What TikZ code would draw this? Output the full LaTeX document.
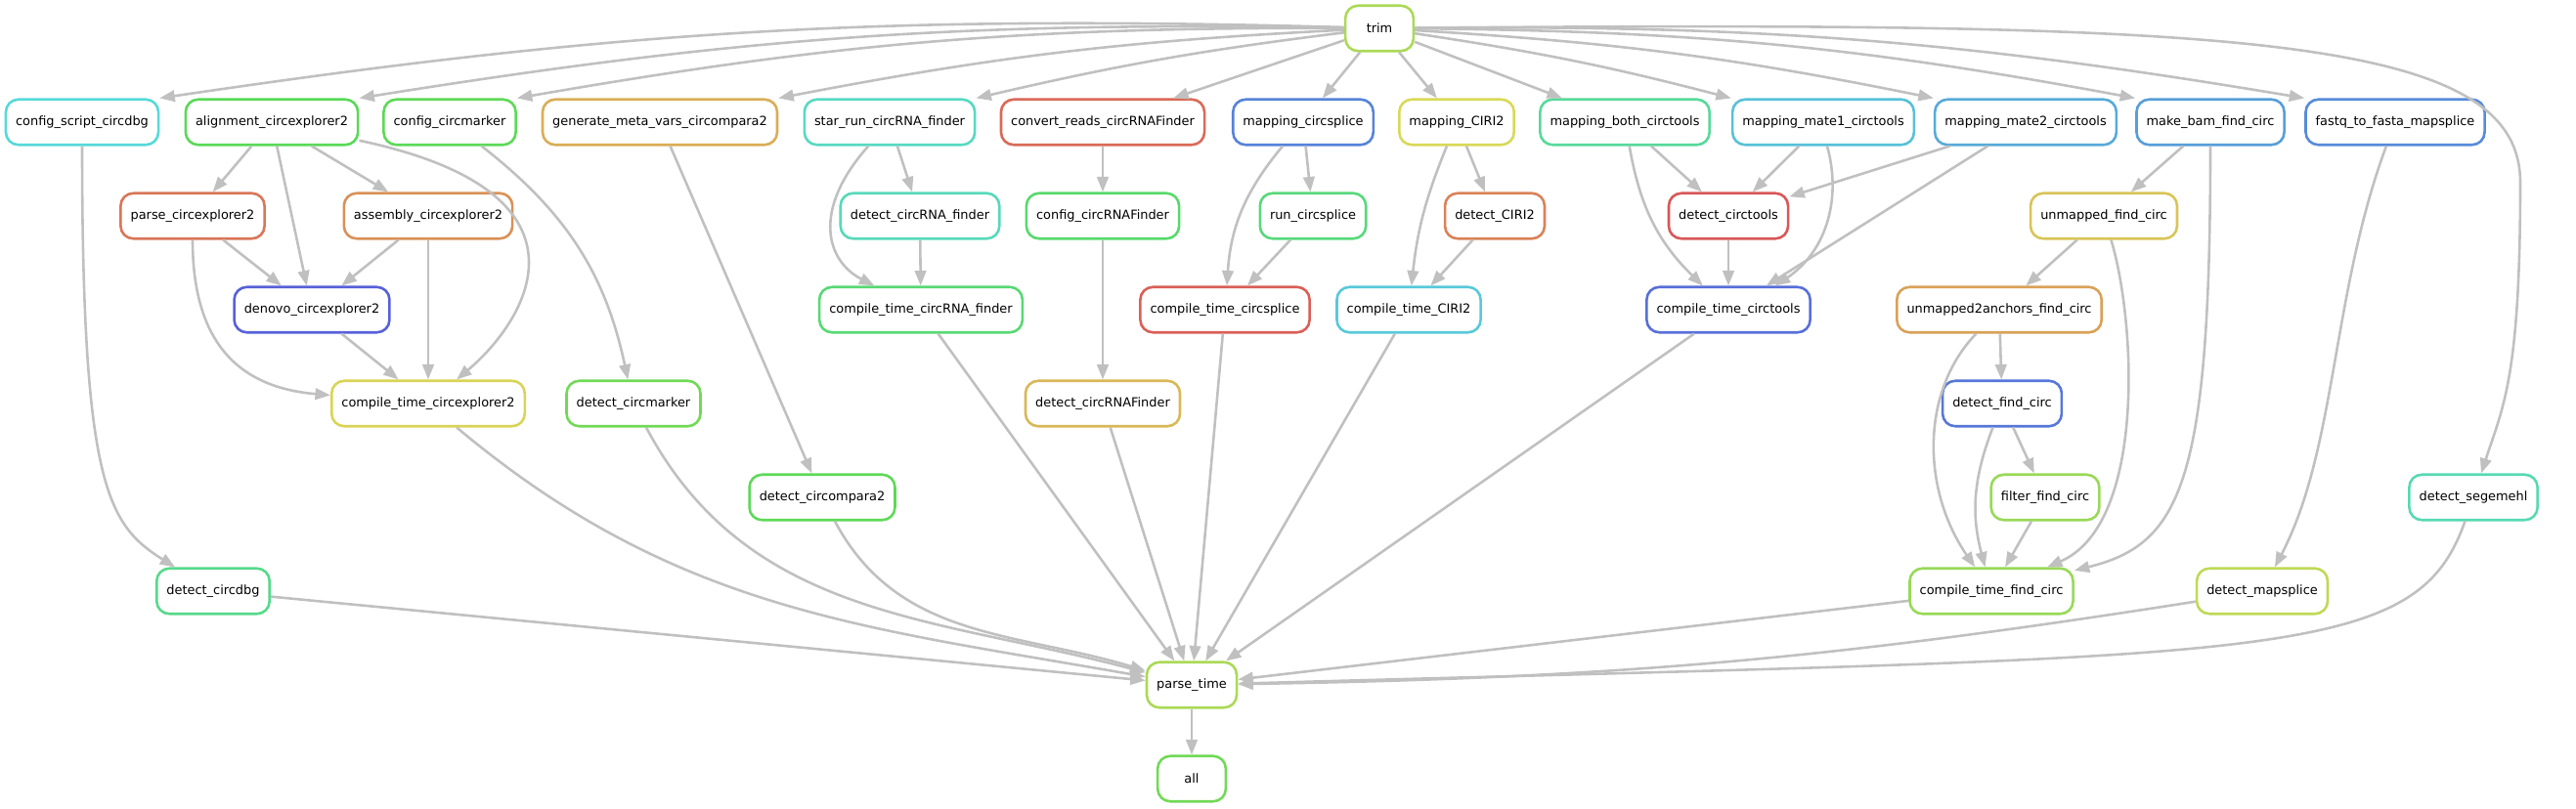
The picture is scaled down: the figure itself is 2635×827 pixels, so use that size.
\documentclass[tikz,border=0pt]{standalone}
\usepackage{fontspec}
\newfontfamily\dagfont{DejaVu Sans}
\usetikzlibrary{arrows.meta}
\definecolor{depgrey}{HTML}{C0C0C0}
\tikzset{
  every picture/.style={font=\dagfont\fontsize{10}{12}\selectfont},
  rulenode/.style={rectangle,rounded corners=10pt,line width=2pt,
    /utils/exec={\definecolor{rulehsb}{hsb}{#1,0.6,0.85}\colorlet{rulehue}[rgb]{rulehsb}},
    draw=rulehue,fill=white,text=black,minimum height=36pt,minimum width=54pt,
    inner xsep=7.9pt,inner ysep=0pt},
  dep/.style={draw=depgrey,line width=2pt,-{Triangle[length=12pt,width=9pt]}},
}
\begin{document}
\begin{tikzpicture}[x=0.775pt,y=0.775pt]
  \path[use as bounding box] (0,0) rectangle (2635,827);
  % rules, one row per level of the DAG
  \node[rulenode=0.225] (trim) at (1411,798) {trim};
  \node[rulenode=0.5]   (cfgdbg)  at (84,702)   {config\_script\_circdbg};
  \node[rulenode=0.33]  (alnce)   at (278,702)  {alignment\_circexplorer2};
  \node[rulenode=0.325] (cfgmk)   at (460,702)  {config\_circmarker};
  \node[rulenode=0.11]  (metacc)  at (675,702)  {generate\_meta\_vars\_circompara2};
  \node[rulenode=0.47]  (starcf)  at (910,702)  {star\_run\_circRNA\_finder};
  \node[rulenode=0.025] (convcf)  at (1128,702) {convert\_reads\_circRNAFinder};
  \node[rulenode=0.61]  (mapcs)   at (1333,702) {mapping\_circsplice};
  \node[rulenode=0.167] (mapciri) at (1490,702) {mapping\_CIRI2};
  \node[rulenode=0.42]  (mapboth) at (1662,702) {mapping\_both\_circtools};
  \node[rulenode=0.53]  (mapmi)   at (1865,702) {mapping\_mate1\_circtools};
  \node[rulenode=0.56]  (mapmii)  at (2072,702) {mapping\_mate2\_circtools};
  \node[rulenode=0.575] (bamfc)   at (2261,702) {make\_bam\_find\_circ};
  \node[rulenode=0.6]   (fqms)    at (2450,702) {fastq\_to\_fasta\_mapsplice};
  \node[rulenode=0.04]  (parsece) at (197,606)  {parse\_circexplorer2};
  \node[rulenode=0.075] (assemce) at (438,606)  {assembly\_circexplorer2};
  \node[rulenode=0.46]  (detcfr)  at (941,606)  {detect\_circRNA\_finder};
  \node[rulenode=0.36]  (cfgcf)   at (1128,606) {config\_circRNAFinder};
  \node[rulenode=0.38]  (runcs)   at (1343,606) {run\_circsplice};
  \node[rulenode=0.055] (detciri) at (1529,606) {detect\_CIRI2};
  \node[rulenode=0.0]   (detct)   at (1768,606) {detect\_circtools};
  \node[rulenode=0.14]  (unmfc)   at (2152,606) {unmapped\_find\_circ};
  \node[rulenode=0.655] (denovo)  at (319,510)  {denovo\_circexplorer2};
  \node[rulenode=0.37]  (ctcfr)   at (942,510)  {compile\_time\_circRNA\_finder};
  \node[rulenode=0.01]  (ctcs)    at (1253,510) {compile\_time\_circsplice};
  \node[rulenode=0.52]  (ctciri)  at (1441,510) {compile\_time\_CIRI2};
  \node[rulenode=0.635] (ctct)    at (1768,510) {compile\_time\_circtools};
  \node[rulenode=0.095] (uanch)   at (2045,510) {unmapped2anchors\_find\_circ};
  \node[rulenode=0.16]  (ctce)    at (438,414)  {compile\_time\_circexplorer2};
  \node[rulenode=0.3]   (detmk)   at (648,414)  {detect\_circmarker};
  \node[rulenode=0.125] (detcf)   at (1128,414) {detect\_circRNAFinder};
  \node[rulenode=0.625] (detfc)   at (2048,414) {detect\_find\_circ};
  \node[rulenode=0.325] (detcc)   at (841,318)  {detect\_circompara2};
  \node[rulenode=0.25]  (filtfc)  at (2092,318) {filter\_find\_circ};
  \node[rulenode=0.45]  (detseg)  at (2530,318) {detect\_segemehl};
  \node[rulenode=0.4]   (detdbg)  at (218,222)  {detect\_circdbg};
  \node[rulenode=0.25]  (ctfc)    at (2037,222) {compile\_time\_find\_circ};
  \node[rulenode=0.2]   (detms)   at (2314,222) {detect\_mapsplice};
  \node[rulenode=0.225] (ptime)   at (1219,126) {parse\_time};
  \node[rulenode=0.3]   (all)     at (1219,30)  {all};
  % fan out of trim
  \draw[dep] (trim) to[bend right=5] (cfgdbg.north east);
  \draw[dep] (trim) to[bend right=5] (alnce.north east);
  \draw[dep] (trim) to[bend right=5] (cfgmk.north east);
  \draw[dep] (trim) to[bend right=4] (metacc.north east);
  \draw[dep] (trim) to[bend right=3] (starcf.north east);
  \draw[dep] (trim) -- (convcf);
  \draw[dep] (trim) -- (mapcs);
  \draw[dep] (trim) -- (mapciri);
  \draw[dep] (trim) -- (mapboth);
  \draw[dep] (trim) to[bend left=3] (mapmi.north west);
  \draw[dep] (trim) to[bend left=4] (mapmii.north west);
  \draw[dep] (trim) to[bend left=5] (bamfc.north west);
  \draw[dep] (trim) to[bend left=5] (fqms.north west);
  \draw[dep] (trim) .. controls (2300,806) and (2578,790) .. (2578,640)
    .. controls (2578,440) and (2560,410) .. (detseg);
  % circexplorer2 and friends
  \draw[dep] (cfgdbg) .. controls (84,330) and (110,290) .. (detdbg);
  \draw[dep] (alnce) -- (parsece);
  \draw[dep] (alnce) -- (denovo);
  \draw[dep] (alnce) -- (assemce);
  \draw[dep] (alnce) .. controls (620,630) and (540,500) .. (ctce);
  \draw[dep] (parsece) -- (denovo);
  \draw[dep] (parsece) .. controls (197,470) and (250,430) .. (ctce);
  \draw[dep] (assemce) -- (denovo);
  \draw[dep] (assemce) -- (ctce);
  \draw[dep] (denovo) -- (ctce);
  \draw[dep] (cfgmk) to[bend left=20] (detmk);
  \draw[dep] (metacc) -- (detcc);
  \draw[dep] (starcf) -- (detcfr);
  \draw[dep] (starcf) .. controls (830,612) and (845,560) .. (ctcfr);
  \draw[dep] (detcfr) -- (ctcfr);
  \draw[dep] (convcf) -- (cfgcf);
  \draw[dep] (cfgcf) -- (detcf);
  \draw[dep] (mapcs) -- (runcs);
  \draw[dep] (mapcs) to[bend right=18] (ctcs);
  \draw[dep] (runcs) -- (ctcs);
  \draw[dep] (mapciri) -- (detciri);
  \draw[dep] (mapciri) to[bend right=8] (ctciri);
  \draw[dep] (detciri) -- (ctciri);
  \draw[dep] (mapboth) -- (detct);
  \draw[dep] (mapboth) to[bend right=18] (ctct);
  \draw[dep] (mapmi) -- (detct);
  \draw[dep] (mapmi) to[bend left=36] (ctct);
  \draw[dep] (mapmii) -- (detct);
  \draw[dep] (mapmii) -- (ctct);
  \draw[dep] (detct) -- (ctct);
  % find_circ chain
  \draw[dep] (bamfc) -- (unmfc);
  \draw[dep] (bamfc) .. controls (2261,330) and (2230,270) .. (ctfc);
  \draw[dep] (unmfc) -- (uanch);
  \draw[dep] (unmfc) .. controls (2185,497) and (2195,290) .. (ctfc);
  \draw[dep] (uanch) -- (detfc);
  \draw[dep] (uanch) .. controls (1965,427) and (1965,327) .. (ctfc);
  \draw[dep] (detfc) -- (filtfc);
  \draw[dep] (detfc) to[bend right=18] (ctfc);
  \draw[dep] (filtfc) -- (ctfc);
  \draw[dep] (fqms) .. controls (2385,527) and (2390,367) .. (detms);
  % everything ends in parse_time
  \draw[dep] (detdbg) -- (ptime);
  \draw[dep] (ctce) to[out=-40,in=170] (ptime);
  \draw[dep] (detmk) to[out=-62,in=165] (ptime);
  \draw[dep] (detcc) to[out=-62,in=163] (ptime);
  \draw[dep] (ctcfr) -- (ptime);
  \draw[dep] (detcf) -- (ptime);
  \draw[dep] (ctcs) -- (ptime);
  \draw[dep] (ctciri) -- (ptime);
  \draw[dep] (ctct) -- (ptime);
  \draw[dep] (ctfc) -- (ptime);
  \draw[dep] (detms) to[bend left=4] (ptime);
  \draw[dep] (detseg) .. controls (2470,147) and (2330,157) .. (ptime);
  \draw[dep] (ptime) -- (all);
\end{tikzpicture}
\end{document}
